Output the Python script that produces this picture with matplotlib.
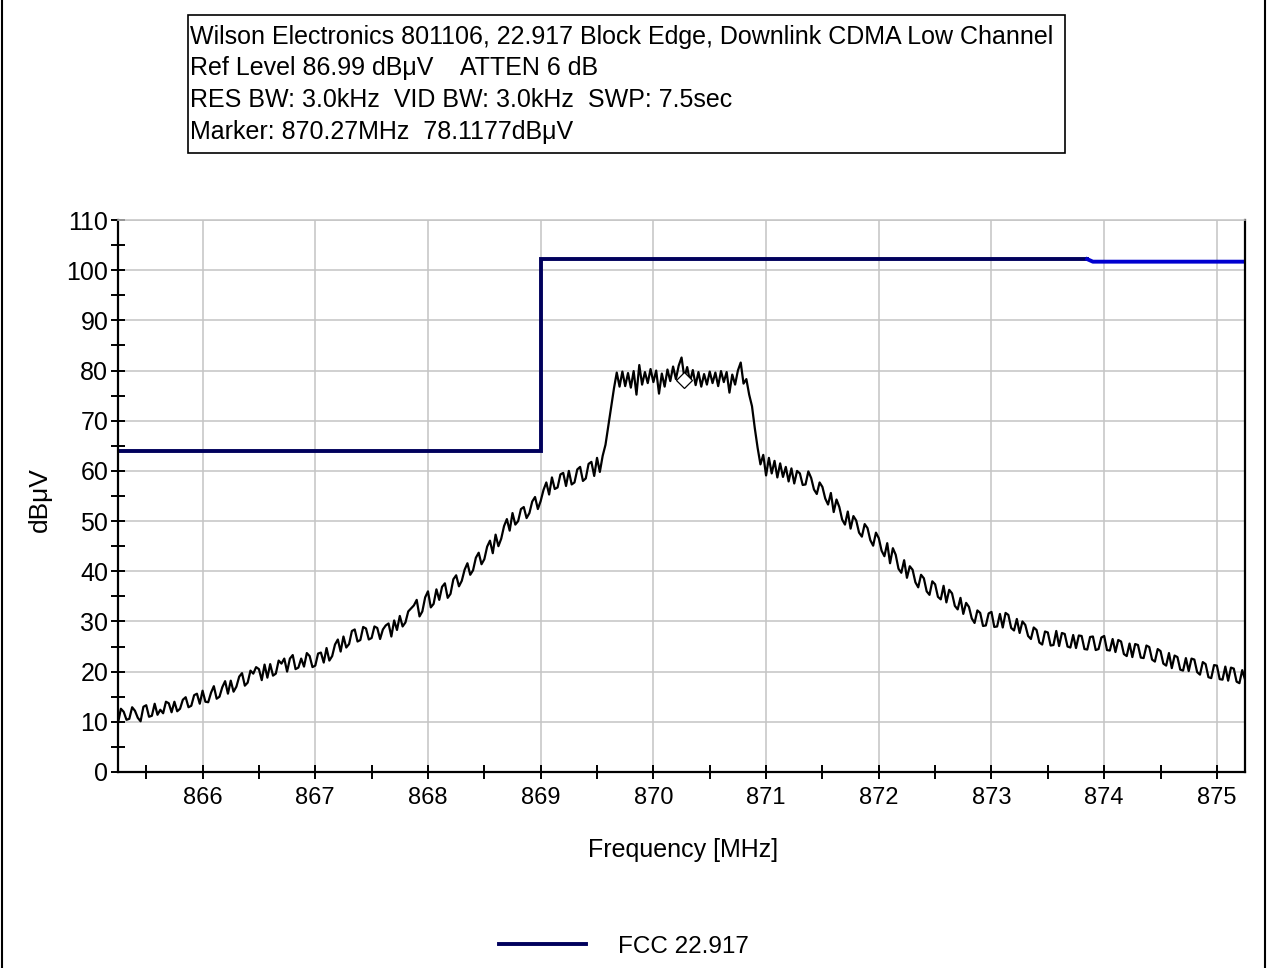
import numpy as np
import matplotlib
matplotlib.use("Agg")
import matplotlib.pyplot as plt
from matplotlib.lines import Line2D
from matplotlib.patches import Rectangle
from matplotlib.ticker import MultipleLocator

OUTPUT_FILE = "out.png"

# sweep settings (MHz)
START_MHZ, STOP_MHZ = 865.25, 875.25

# measured trace, dBuV, one value every 25 kHz across the sweep
TRACE_DBUV = [
    9.8, 12.6, 12.0, 10.4, 10.6, 12.9, 12.2, 10.8, 10.1, 13.0,
    13.3, 11.0, 11.2, 13.6, 11.4, 12.4, 11.7, 14.0, 13.7, 11.9,
    14.0, 12.1, 12.6, 14.4, 14.9, 12.9, 13.2, 15.3, 15.6, 13.6,
    16.2, 14.0, 13.9, 15.8, 17.1, 14.6, 15.0, 16.9, 18.1, 15.6,
    18.2, 16.0, 17.0, 19.0, 19.7, 17.2, 17.8, 20.2, 19.6, 20.9,
    20.5, 18.3, 21.4, 18.8, 21.5, 19.2, 19.6, 22.2, 21.6, 22.6,
    20.0, 22.6, 23.3, 20.5, 20.8, 22.6, 21.0, 23.7, 23.1, 20.9,
    21.2, 23.6, 23.8, 21.8, 24.7, 22.2, 23.1, 25.4, 26.4, 24.0,
    27.0, 24.8, 25.5, 28.1, 28.4, 26.0, 26.3, 28.9, 28.6, 26.4,
    26.7, 29.0, 28.7, 26.5, 28.4, 29.2, 29.6, 27.0, 30.2, 28.3,
    31.1, 29.0, 29.8, 32.0, 32.6, 33.2, 34.3, 31.0, 32.0, 34.8,
    36.0, 32.8, 33.5, 36.4, 34.3, 36.9, 37.6, 34.7, 35.5, 38.4,
    39.2, 37.0, 38.1, 40.3, 41.6, 39.3, 40.2, 42.7, 43.7, 41.4,
    42.4, 44.9, 46.1, 43.6, 47.3, 45.0, 46.5, 49.0, 50.4, 48.1,
    51.6, 49.3, 50.0, 52.4, 52.8, 50.6, 51.6, 53.9, 54.8, 52.4,
    54.0, 56.2, 57.7, 55.3, 58.7, 56.4, 56.7, 59.3, 59.6, 57.0,
    60.0, 57.3, 57.7, 60.3, 60.8, 58.0, 58.5, 61.4, 61.8, 59.0,
    62.6, 59.8, 63.0, 65.2, 68.9, 72.6, 76.4, 79.6, 76.8, 79.8,
    76.9, 79.5, 76.6, 79.9, 75.2, 81.1, 77.2, 79.7, 77.5, 80.3,
    77.7, 80.0, 75.4, 79.4, 76.8, 80.2, 77.9, 80.8, 78.3, 81.0,
    82.6, 78.6, 80.7, 77.8, 80.1, 77.1, 79.7, 76.8, 79.3, 77.2,
    79.8, 77.5, 79.6, 76.9, 79.9, 77.7, 79.7, 75.6, 79.2, 77.2,
    80.0, 81.6, 77.4, 78.3, 75.2, 72.9, 68.5, 64.6, 61.3, 63.2,
    59.1, 62.6, 59.5, 62.0, 58.7, 61.5, 58.8, 60.8, 57.9, 60.5,
    57.5, 60.0, 59.5, 57.2, 57.3, 59.9, 58.6, 56.3, 55.4, 57.7,
    56.8, 54.5, 53.3, 55.6, 51.8, 54.3, 52.8, 50.3, 49.3, 51.9,
    48.5, 51.0, 50.1, 47.7, 46.9, 49.4, 48.6, 46.2, 45.1, 47.7,
    46.6, 44.1, 43.0, 45.6, 41.6, 44.6, 43.3, 40.5, 39.7, 42.2,
    38.7, 41.0, 40.3, 37.8, 36.8, 39.3, 38.6, 36.0, 35.3, 38.0,
    37.4, 34.9, 34.4, 37.1, 33.8, 36.3, 35.6, 33.1, 32.4, 34.7,
    31.5, 33.7, 32.9, 30.6, 29.7, 32.2, 31.7, 29.1, 29.2, 31.6,
    31.9, 28.9, 29.0, 31.5, 28.8, 31.7, 31.3, 28.7, 28.2, 30.5,
    27.7, 30.0, 29.3, 27.1, 26.5, 28.8, 28.3, 25.8, 25.4, 28.0,
    27.8, 25.2, 25.3, 28.1, 25.1, 27.7, 27.5, 25.0, 24.8, 27.3,
    24.7, 27.2, 27.1, 24.5, 24.4, 26.9, 27.0, 24.3, 24.5, 26.8,
    27.1, 24.3, 24.2, 26.5, 23.9, 26.3, 26.0, 23.5, 23.1, 25.6,
    22.9, 25.5, 25.3, 22.8, 22.7, 25.2, 24.9, 22.4, 22.0, 24.5,
    24.1, 21.6, 21.2, 23.7, 20.7, 23.2, 22.9, 20.4, 20.2, 22.7,
    20.1, 22.6, 22.4, 19.9, 19.4, 21.9, 21.5, 18.9, 18.7, 21.3,
    21.2, 18.5, 18.4, 21.0, 18.2, 20.8, 20.6, 18.0, 17.7, 20.3,
    18.4,
]

# FCC 22.917 limit line
LIMIT_FREQ = [865.25, 869.0, 869.0, 873.85]
LIMIT_DBUV = [64.0, 64.0, 102.2, 102.2]
LIMIT_TAIL_FREQ = [873.85, 873.9, 875.25]
LIMIT_TAIL_DBUV = [102.2, 101.7, 101.7]

MARKER_MHZ, MARKER_DBUV = 870.27, 78.1177

HEADER_LINES = [
    "Wilson Electronics 801106, 22.917 Block Edge, Downlink CDMA Low Channel",
    "Ref Level 86.99 dB\u03bcV    ATTEN 6 dB",
    "RES BW: 3.0kHz  VID BW: 3.0kHz  SWP: 7.5sec",
    "Marker: 870.27MHz  78.1177dB\u03bcV",
]

NAVY = "#00005c"
BLUE = "#0000d0"
GRID = "#c4c4c4"

plt.rcParams["font.family"] = ["Liberation Sans", "DejaVu Sans"]

freq = np.linspace(START_MHZ, STOP_MHZ, len(TRACE_DBUV))

fig = plt.figure(figsize=(12.68, 9.68), dpi=100)
ax = fig.add_axes([0.0931, 0.2025, 0.8888, 0.5702])

ax.plot(freq, TRACE_DBUV, color="black", lw=1.6, zorder=3)
ax.plot(MARKER_MHZ, MARKER_DBUV, marker="D", ms=8, mfc="white",
        mec="black", mew=0.9, zorder=4)
ax.plot(LIMIT_FREQ, LIMIT_DBUV, color=NAVY, lw=2.8, zorder=2,
        solid_joinstyle="miter")
ax.plot(LIMIT_TAIL_FREQ, LIMIT_TAIL_DBUV, color=BLUE, lw=2.8, zorder=2)

ax.set_xlim(START_MHZ, STOP_MHZ)
ax.set_ylim(0, 110)
ax.set_xticks(range(866, 876))
ax.set_yticks(range(0, 111, 10))
ax.xaxis.set_minor_locator(MultipleLocator(0.5))
ax.yaxis.set_minor_locator(MultipleLocator(5))
ax.tick_params(which="both", direction="inout", length=10, width=1.4,
               colors="black")
ax.tick_params(axis="x", pad=6, labelsize=17)
ax.tick_params(axis="y", pad=2, labelsize=18)
ax.grid(True, which="major", color=GRID, lw=1.1, zorder=0)

for side in ("left", "bottom", "right"):
    ax.spines[side].set_linewidth(1.6)
    ax.spines[side].set_color("black")
ax.spines["top"].set_color(GRID)
ax.spines["top"].set_linewidth(1.1)

fig.text(0.5387, 0.1219, "Frequency [MHz]", ha="center", va="center",
         fontsize=18)
fig.text(0.0315, 0.4835, "dB\u03bcV", ha="center", va="center",
         rotation=90, fontsize=19)

# header box
fig.add_artist(Rectangle((0.1483, 0.8419), 0.6916, 0.1426,
                         transform=fig.transFigure, fill=False,
                         edgecolor="black", lw=1.2))
for y, line in zip([0.9618, 0.9298, 0.8967, 0.8636], HEADER_LINES):
    fig.text(0.1498, y, line, ha="left", va="center", fontsize=18)

handle = Line2D([], [], color=NAVY, lw=2.8)
fig.legend([handle], ["FCC 22.917"], loc="center",
           bbox_to_anchor=(0.492, 0.022), frameon=False, fontsize=17.5,
           handlelength=3.6, handletextpad=1.3)

# outer frame edges
for x in (0.0016, 0.998):
    fig.add_artist(Line2D([x, x], [0, 1], transform=fig.transFigure,
                          color="black", lw=1.5))

fig.savefig(OUTPUT_FILE, dpi=100)
